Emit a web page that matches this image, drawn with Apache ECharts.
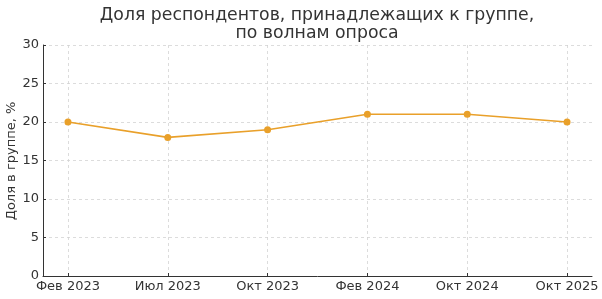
<!DOCTYPE html>
<html><head><meta charset="utf-8">
<script src="https://cdn.jsdelivr.net/npm/echarts@6/dist/echarts.min.js"></script>
<style>html,body{margin:0;padding:0;background:#fff}#c{width:602px;height:299px}</style>
</head><body><div id="c"></div>
<script>
const categories = ['Фев 2023', 'Июл 2023', 'Окт 2023', 'Фев 2024', 'Окт 2024', 'Окт 2025'];
const shares = [20, 18, 19, 21, 21, 20];
const yTicks = [0, 5, 10, 15, 20, 25, 30];
const titleText = 'Доля респондентов, принадлежащих к группе,\nпо волнам опроса';
const yName = 'Доля в группе, %';

const idx = categories.map((_, i) => i);
const chart = echarts.init(document.getElementById('c'), null, {renderer: 'canvas'});
const font = 'DejaVu Sans';
chart.setOption({
  animation: false,
  graphic: [{
    type: 'text', x: 317, y: 6,
    style: {text: titleText, align: 'center', verticalAlign: 'top', font: '17.3px "DejaVu Sans"', fill: '#333', lineHeight: 18.5}
  }, {
    type: 'text', x: 12, y: 161, rotation: Math.PI / 2,
    style: {text: yName, align: 'center', verticalAlign: 'middle', font: '13px "DejaVu Sans"', fill: '#333'}
  }],
  grid: {left: 43, right: 10, top: 45, bottom: 23, outerBoundsMode: 'none', containLabel: false},
  xAxis: {
    type: 'value', min: -0.25, max: categories.length - 0.75,
    axisLine: {show: true, onZero: false, lineStyle: {color: '#333', width: 1}},
    axisTick: {show: true, inside: true, length: 3, customValues: idx, lineStyle: {color: '#333'}},
    axisLabel: {customValues: idx, formatter: v => categories[Math.round(v)], fontFamily: font, fontSize: 13, color: '#333', margin: 4},
    splitLine: {show: true, lineStyle: {color: '#d4d4d4', type: [3, 3], width: 0.8}}
  },
  yAxis: {
    type: 'value', min: 0, max: 30, interval: 5,
    axisLine: {show: true, onZero: false, lineStyle: {color: '#333', width: 1}},
    axisTick: {show: true, inside: true, length: 3, lineStyle: {color: '#333'}},
    axisLabel: {fontFamily: font, fontSize: 13, color: '#333', margin: 4, formatter: v => yTicks.includes(v) ? String(v) : ''},
    splitLine: {show: true, lineStyle: {color: '#d4d4d4', type: [3, 3], width: 0.8}}
  },
  series: [{
    type: 'line', data: shares.map((v, i) => [idx[i], v]),
    symbol: 'circle', symbolSize: 7,
    lineStyle: {color: '#e9a02a', width: 1.6},
    itemStyle: {color: '#e9a02a'}
  }]
});
</script></body></html>
